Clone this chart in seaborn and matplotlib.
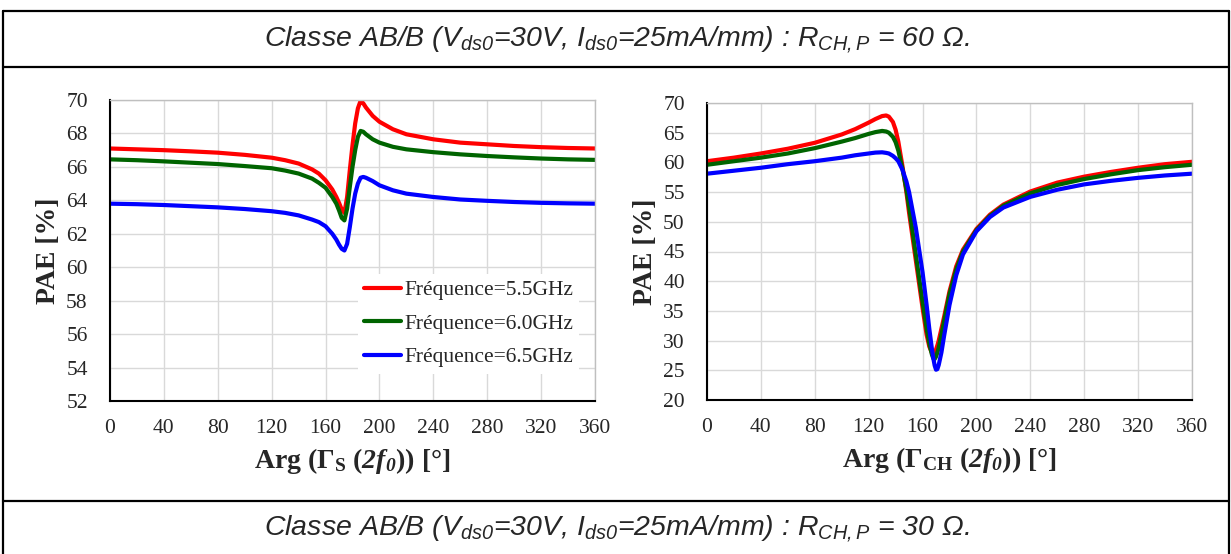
import matplotlib
matplotlib.use("Agg")
import matplotlib.pyplot as plt
from matplotlib.lines import Line2D
import pandas as pd
import seaborn as sns

# --- data ---
freq_labels = ["Fréquence=5.5GHz", "Fréquence=6.0GHz", "Fréquence=6.5GHz"]
colors = ["#ff0000", "#006400", "#0000ff"]

# left plot: Arg(Gamma_S(2f0))
arg_s = [0, 20, 40, 60, 80, 100, 120, 130, 140, 150, 155, 160, 165, 168, 170, 172, 174,
         176, 178, 180, 182, 184, 186, 188, 190, 195, 200, 210, 220, 240, 260, 280, 300,
         320, 340, 360]
pae_s_55 = [67.10, 67.05, 67.00, 66.93, 66.85, 66.72, 66.55, 66.40, 66.20, 65.85, 65.60,
            65.20, 64.65, 64.20, 63.85, 63.45, 63.25, 64.20, 65.80, 67.30, 68.60, 69.50,
            69.95, 69.80, 69.55, 69.05, 68.70, 68.25, 67.95, 67.65, 67.45, 67.35, 67.25,
            67.18, 67.13, 67.10]
pae_s_60 = [66.45, 66.40, 66.33, 66.25, 66.17, 66.05, 65.92, 65.78, 65.60, 65.30, 65.05,
            64.75, 64.20, 63.80, 63.40, 62.95, 62.80, 63.50, 64.80, 66.00, 67.00, 67.80,
            68.15, 68.10, 67.95, 67.65, 67.45, 67.20, 67.05, 66.88, 66.75, 66.65, 66.57,
            66.50, 66.45, 66.42]
pae_s_65 = [63.80, 63.77, 63.72, 63.65, 63.58, 63.48, 63.35, 63.25, 63.10, 62.85, 62.70,
            62.45, 62.00, 61.65, 61.35, 61.10, 61.00, 61.40, 62.40, 63.50, 64.40, 65.00,
            65.35, 65.40, 65.35, 65.15, 64.90, 64.60, 64.40, 64.20, 64.05, 63.97, 63.90,
            63.85, 63.82, 63.80]

# right plot: Arg(Gamma_CH(2f0))
arg_ch = [0, 20, 40, 60, 80, 100, 110, 120, 125, 130, 133, 135, 138, 140, 142, 145, 148,
          150, 155, 160, 163, 165, 167, 168, 169, 170, 171, 172, 174, 176, 180, 185, 190,
          200, 210, 220, 240, 260, 280, 300, 320, 340, 360]
pae_ch_55 = [60.2, 60.8, 61.5, 62.3, 63.3, 64.7, 65.6, 66.7, 67.3, 67.8, 67.9, 67.7, 66.8,
             65.5, 63.5, 59.5, 55.0, 51.5, 43.5, 35.5, 31.0, 29.0, 27.9, 27.7, 27.9, 28.5,
             29.2, 30.0, 32.0, 34.0, 38.3, 42.5, 45.3, 48.8, 51.2, 52.9, 55.1, 56.6, 57.6,
             58.4, 59.1, 59.7, 60.1]
pae_ch_60 = [59.6, 60.2, 60.8, 61.5, 62.4, 63.5, 64.1, 64.8, 65.1, 65.3, 65.2, 65.0, 64.3,
             63.4, 62.0, 59.0, 55.5, 52.5, 44.5, 36.5, 32.0, 29.5, 27.6, 27.0, 26.9, 27.3,
             28.0, 28.8, 31.0, 33.3, 37.8, 42.0, 45.0, 48.6, 51.0, 52.7, 54.8, 56.2, 57.2,
             58.0, 58.7, 59.2, 59.6]
pae_ch_65 = [58.1, 58.6, 59.1, 59.7, 60.2, 60.8, 61.2, 61.5, 61.65, 61.7, 61.6, 61.5, 61.1,
             60.7, 60.2, 58.8, 56.8, 55.0, 49.0, 41.5, 36.0, 32.0, 28.5, 27.0, 25.8, 25.1,
             25.2, 25.9, 28.0, 30.8, 36.0, 41.0, 44.5, 48.4, 50.8, 52.4, 54.2, 55.4, 56.3,
             56.9, 57.4, 57.8, 58.1]

x_ticks = [0, 40, 80, 120, 160, 200, 240, 280, 320, 360]
title_top = r"Classe AB/B ($V_{ds0}$=30V, $I_{ds0}$=25mA/mm) : $R_{CH,P}$ = 60 Ω."
title_bottom = r"Classe AB/B ($V_{ds0}$=30V, $I_{ds0}$=25mA/mm) : $R_{CH,P}$ = 30 Ω."


def long_form(x, series):
    frames = []
    for lab, y in zip(freq_labels, series):
        frames.append(pd.DataFrame({"arg": x, "pae": y, "freq": lab}))
    return pd.concat(frames, ignore_index=True)


df_s = long_form(arg_s, [pae_s_55, pae_s_60, pae_s_65])
df_ch = long_form(arg_ch, [pae_ch_55, pae_ch_60, pae_ch_65])

sns.set_style("white")
plt.rcParams["font.family"] = ["Liberation Serif", "DejaVu Serif"]
plt.rcParams["mathtext.fontset"] = "custom"
plt.rcParams["mathtext.rm"] = "Liberation Sans:italic"
plt.rcParams["mathtext.it"] = "Liberation Sans:italic"
plt.rcParams["mathtext.bf"] = "Liberation Serif:bold"
plt.rcParams["mathtext.bfit"] = "Liberation Serif:bold:italic"

fig = plt.figure(figsize=(12.31, 5.54), dpi=100)
ax1 = fig.add_axes([110 / 1231, 1 - 401 / 554, 485 / 1231, 301 / 554])
ax2 = fig.add_axes([707 / 1231, 1 - 400 / 554, 485 / 1231, 297 / 554])

palette = dict(zip(freq_labels, colors))
sns.lineplot(data=df_s, x="arg", y="pae", hue="freq", palette=palette, ax=ax1,
             linewidth=3.0, sort=False, legend=True)
sns.lineplot(data=df_ch, x="arg", y="pae", hue="freq", palette=palette, ax=ax2,
             linewidth=3.0, sort=False, legend=False)

for ax, ylim, yticks in [(ax1, (52, 70), range(52, 71, 2)), (ax2, (20, 70), range(20, 71, 5))]:
    ax.set_xlim(0, 360)
    ax.set_ylim(*ylim)
    ax.set_xticks(x_ticks)
    ax.set_yticks(list(yticks))
    ax.grid(True, color="#d9d9d9", linewidth=1.0)
    ax.set_axisbelow(True)
    ax.tick_params(direction="in", length=5, width=1.2, labelsize=15.5, color="black")
    ax.tick_params(axis="x", pad=13)
    ax.tick_params(axis="y", pad=16)
    for side in ["left", "bottom"]:
        ax.spines[side].set_color("black")
        ax.spines[side].set_linewidth(1.5)
    for side in ["top", "right"]:
        ax.spines[side].set_color("#bfbfbf")
        ax.spines[side].set_linewidth(1.0)
    ax.set_ylabel("PAE [%]", fontsize=20, fontweight="bold", labelpad=4)

ax1.set_xlabel(r"Arg ($\mathbf{\Gamma_{S}}$ ($\mathbfit{2f_{0}}$)) [°]", fontsize=20,
               fontweight="bold", labelpad=6)
ax2.set_xlabel(r"Arg ($\mathbf{\Gamma_{CH}}$ ($\mathbfit{2f_{0}}$)) [°]", fontsize=20,
               fontweight="bold", labelpad=6)

leg = ax1.legend(loc="lower right", bbox_to_anchor=(0.99, 0.055), fontsize=15.5,
                 frameon=True, facecolor="white", edgecolor="none", framealpha=1,
                 handlelength=1.7, handletextpad=0.15, labelspacing=0.62,
                 borderpad=0.3, title=None)
leg.get_frame().set_boxstyle("square", pad=0)

# table-like frame lines around the charts
frame_kw = dict(color="black", linewidth=1.6, transform=fig.transFigure)
fig.add_artist(Line2D([3 / 1231, 1229 / 1231], [1 - 11 / 554] * 2, **frame_kw))
fig.add_artist(Line2D([3 / 1231, 1229 / 1231], [1 - 67 / 554] * 2, **frame_kw))
fig.add_artist(Line2D([3 / 1231, 1229 / 1231], [1 - 501 / 554] * 2, **frame_kw))
fig.add_artist(Line2D([3 / 1231] * 2, [0, 1 - 11 / 554], **frame_kw))
fig.add_artist(Line2D([1229 / 1231] * 2, [0, 1 - 11 / 554], **frame_kw))

fig.text(0.501, 1 - 40 / 554, title_top, ha="center", va="center", fontsize=20.5,
         family="Liberation Sans", style="italic")
fig.text(0.501, 1 - 529 / 554, title_bottom, ha="center", va="center", fontsize=20.5,
         family="Liberation Sans", style="italic")

fig.savefig("out.png", dpi=100)
